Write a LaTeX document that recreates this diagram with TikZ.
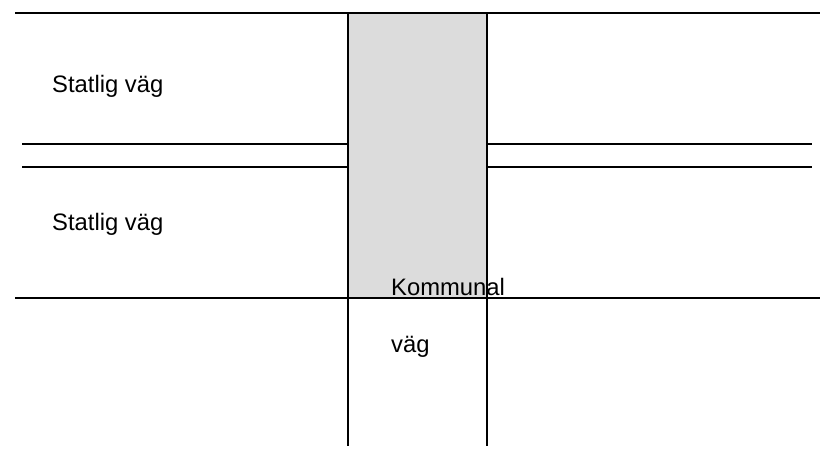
\documentclass[tikz,border=0pt]{standalone}
\usepackage{fontspec}
\setmainfont{Liberation Sans}
\definecolor{roadgray}{RGB}{220,220,220}

\begin{document}
\begin{tikzpicture}[x=1pt,y=-1pt,
    road/.style={line width=2.5pt},
    roadname/.style={anchor=base west,inner sep=0pt,font=\fontsize{23.8}{28}\selectfont}]
        \useasboundingbox (0,0) rectangle (835,451);

        \coordinate (nw) at (348,13);
        \coordinate (ne) at (487,13);
        \coordinate (sw) at (348,298);
        \coordinate (se) at (487,298);
        \coordinate (bl) at (348,446);
        \coordinate (br) at (487,446);

        % kommunal road surface
        \fill[roadgray] (nw) rectangle (se);

        % statlig roads
        \draw[road] (15,13) -- (820,13);
        \draw[road] (22,144) -- (348,144);
        \draw[road] (22,167) -- (348,167);
        \draw[road] (487,144) -- (812,144);
        \draw[road] (487,167) -- (812,167);
        \draw[road] (15,298) -- (820,298);

        % kommunal road edges
        \draw[road] (nw) -- (bl);
        \draw[road] (ne) -- (br);

        \node[roadname] (statlig1) at (52,92) {Statlig väg};
        \node[roadname] (statlig2) at (52,230) {Statlig väg};
        \node[roadname] (kommunal) at (391,295) {Kommunal};
        \node[roadname] (vag) at (391,352) {väg};
    \end{tikzpicture}
\end{document}
